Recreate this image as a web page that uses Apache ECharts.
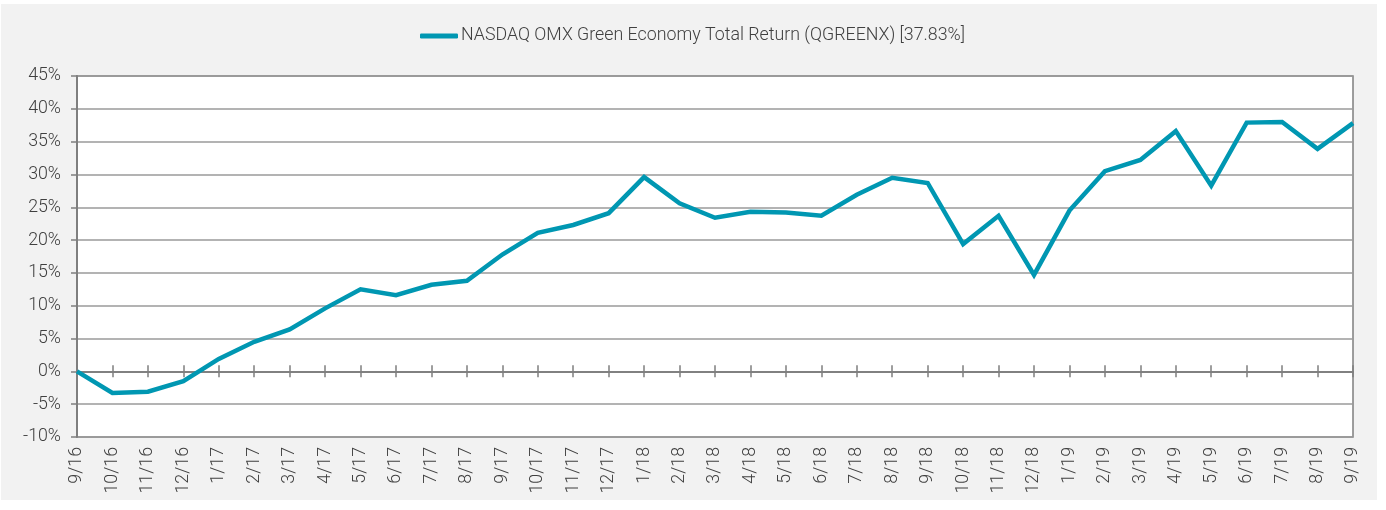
<!DOCTYPE html>
<html>
<head>
<meta charset="utf-8">
<script src="https://cdn.jsdelivr.net/npm/echarts@6/dist/echarts.min.js"></script>
<style>
  html, body { margin: 0; padding: 0; background: #ffffff; }
  #chart { position: absolute; left: 1px; top: 4px; width: 1376px; height: 496px; }
</style>
</head>
<body>
<div id="chart"></div>
<script>
// Month-end labels, 9/16 through 9/19
const months = [
  '9/16', '10/16', '11/16', '12/16',
  '1/17', '2/17', '3/17', '4/17', '5/17', '6/17', '7/17', '8/17', '9/17', '10/17', '11/17', '12/17',
  '1/18', '2/18', '3/18', '4/18', '5/18', '6/18', '7/18', '8/18', '9/18', '10/18', '11/18', '12/18',
  '1/19', '2/19', '3/19', '4/19', '5/19', '6/19', '7/19', '8/19', '9/19'
];

// Cumulative total return, percent
const cumulativeReturn = [
  0.0, -3.3, -3.1, -1.5,
  1.9, 4.5, 6.4, 9.6, 12.5, 11.6, 13.2, 13.8, 17.8, 21.1, 22.3, 24.1,
  29.6, 25.6, 23.4, 24.3, 24.2, 23.7, 26.9, 29.5, 28.7, 19.4, 23.7, 14.7,
  24.5, 30.5, 32.2, 36.6, 28.3, 37.9, 38.0, 33.9, 37.83
];

// Value axis range and step, percent
const yRange = { min: -10, max: 45, step: 5 };

const seriesName = 'NASDAQ OMX Green Economy Total Return (QGREENX) [37.83%]';

const FONT = 'Roboto';
const FONT_SIZE = 17.8;
const TEXT_COLOR = '#404040';
const AXIS_COLOR = '#7f7f7f';
const GRID_COLOR = '#9a9a9a';
const LINE_COLOR = '#0097b2';

const chart = echarts.init(document.getElementById('chart'));

const valueAxisBase = {
  type: 'value',
  min: yRange.min,
  max: yRange.max,
  interval: yRange.step
};

// Tick-only axis that sits on the 0% line
function zeroTickAxis(yIndex, inside) {
  return {
    type: 'category',
    data: months,
    boundaryGap: false,
    axisLine: {
      show: true,
      onZero: true,
      onZeroAxisIndex: yIndex,
      lineStyle: { color: AXIS_COLOR, width: 1.5 }
    },
    axisTick: {
      show: true,
      inside: inside,
      interval: 0,
      length: 6,
      lineStyle: { color: AXIS_COLOR, width: 1.5 }
    },
    axisLabel: { show: false, interval: 0 },
    splitLine: { show: false }
  };
}

chart.setOption({
  backgroundColor: '#f2f2f2',
  animation: false,
  textStyle: { fontFamily: FONT },
  legend: {
    left: 419,
    top: 23,
    padding: 0,
    icon: 'roundRect',
    itemWidth: 38,
    itemHeight: 5,
    itemGap: 10,
    textStyle: { fontFamily: FONT, fontSize: FONT_SIZE, fontWeight: 300, color: TEXT_COLOR, padding: [0, 0, 0, -2] },
    data: [seriesName]
  },
  grid: {
    left: 76,
    top: 72,
    width: 1276,
    height: 361,
    show: true,
    backgroundColor: '#ffffff',
    borderColor: AXIS_COLOR,
    borderWidth: 1.5,
    outerBoundsMode: 'none'
  },
  xAxis: [
    {
      type: 'category',
      data: months,
      boundaryGap: false,
      position: 'bottom',
      axisLine: { show: false, onZero: false },
      axisTick: { show: false },
      splitLine: { show: false },
      axisLabel: {
        rotate: 90,
        margin: 10,
        interval: 0,
        fontFamily: FONT,
        fontSize: FONT_SIZE,
        fontWeight: 300,
        color: TEXT_COLOR
      }
    },
    zeroTickAxis(0, false),
    zeroTickAxis(1, true)
  ],
  yAxis: [
    Object.assign({}, valueAxisBase, {
      axisLine: { show: true, lineStyle: { color: AXIS_COLOR, width: 2 } },
      axisTick: { show: true, inside: false, length: 6, lineStyle: { color: AXIS_COLOR, width: 1.5 } },
      splitLine: { show: true, lineStyle: { color: GRID_COLOR, width: 1.5 } },
      axisLabel: {
        margin: 16,
        fontFamily: FONT,
        fontSize: FONT_SIZE,
        fontWeight: 300,
        color: TEXT_COLOR,
        formatter: v => v + '%'
      }
    }),
    Object.assign({}, valueAxisBase, { show: false })
  ],
  series: [
    {
      name: seriesName,
      type: 'line',
      xAxisIndex: 0,
      yAxisIndex: 0,
      data: cumulativeReturn,
      symbol: 'none',
      smooth: false,
      lineStyle: { color: LINE_COLOR, width: 4.5, join: 'miter' },
      itemStyle: { color: LINE_COLOR },
      z: 5
    }
  ]
});
</script>
</body>
</html>
